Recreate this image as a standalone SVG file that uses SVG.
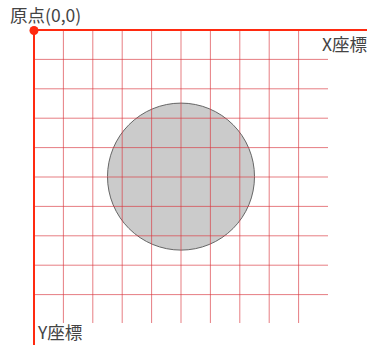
<svg xmlns="http://www.w3.org/2000/svg" width="368" height="345" viewBox="0 0 368 345">
<style>
.g{stroke:#d9383f;stroke-opacity:0.65;stroke-width:1;fill:none}
.ax{stroke:#ff2a10;stroke-width:2;fill:none}
.t{font-family:"Noto Sans CJK JP","Noto Sans",sans-serif;font-size:17.5px;fill:#444}
</style>
<rect width="368" height="345" fill="#fff"/>
<g id="circle"><circle cx="181" cy="176.6" r="73.5" fill="#cbcbcb" stroke="#666" stroke-width="1"/></g>
<g id="grid">
<path class="g" d="M63.4 30V323M92.8 30V323M122.2 30V323M151.6 30V323M181 30V323M210.4 30V323M239.8 30V323M269.2 30V323M298.6 30V323"/>
<path class="g" d="M34 59.4H328M34 88.8H328M34 118.2H328M34 147.6H328M34 177H328M34 206.4H328M34 235.8H328M34 265.2H328M34 294.6H328"/>
</g>
<g id="axes">
<path class="ax" d="M34 30H367"/>
<path class="ax" d="M34 30V345"/>
<circle cx="34" cy="30.5" r="4.5" fill="#ff2a10"/>
</g>
<g id="labels">
<text class="t" x="10" y="22">原点(0,0)</text>
<text class="t" x="322" y="51">X座標</text>
<text class="t" x="38" y="339">Y座標</text>
</g>
</svg>
